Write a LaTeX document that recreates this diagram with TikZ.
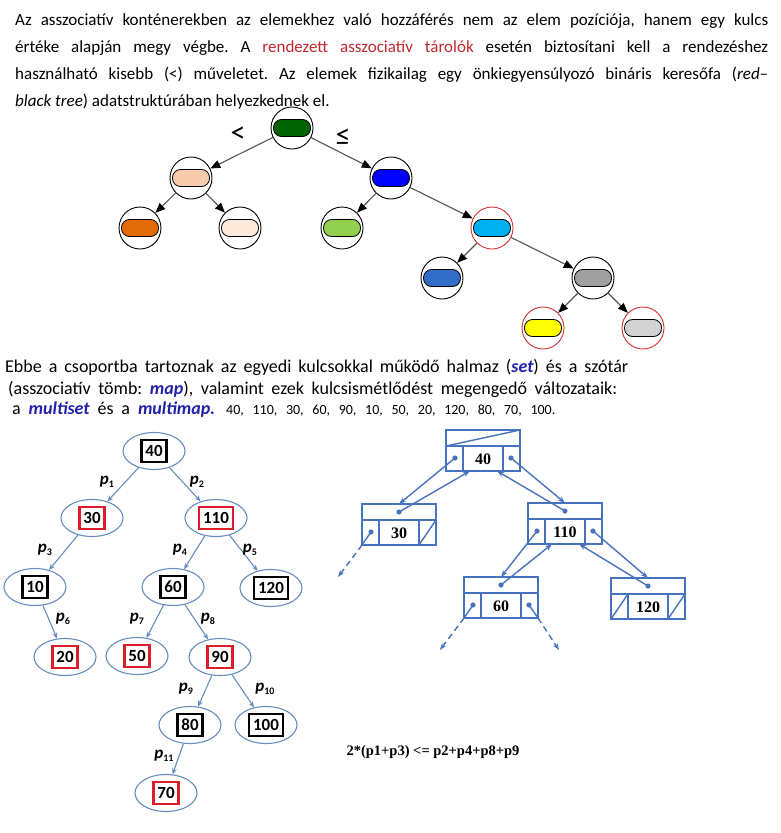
\documentclass[tikz,border=0pt]{standalone}
\usepackage{fontspec}
\setmainfont{Carlito}
\newfontfamily\timesf{Liberation Serif}
\usetikzlibrary{arrows.meta,shapes.geometric}
\frenchspacing
\definecolor{darkred}{RGB}{192,40,45}
\definecolor{kwblue}{RGB}{32,32,170}
\definecolor{eblue}{RGB}{105,140,190}
\definecolor{rblue}{RGB}{70,115,190}
\definecolor{boxred}{RGB}{220,30,40}
\definecolor{circred}{RGB}{210,50,50}
\definecolor{lgray}{RGB}{85,85,85}
\definecolor{cRoot}{RGB}{0,100,0}
\definecolor{cL}{RGB}{248,203,173}
\definecolor{cR}{RGB}{0,0,255}
\definecolor{cLL}{RGB}{226,107,10}
\definecolor{cLR}{RGB}{253,233,217}
\definecolor{cRL}{RGB}{146,208,80}
\definecolor{cRR}{RGB}{0,176,240}
\definecolor{cRRL}{RGB}{50,110,200}
\definecolor{cRRR}{RGB}{160,160,160}
\definecolor{cY}{RGB}{255,255,0}
\definecolor{cLG}{RGB}{210,210,210}
\newcommand\kw[1]{\textbf{\textit{\color{kwblue}#1}}}
\newcommand\pl[1]{\textit{p}\raisebox{-3pt}{\fontsize{10}{10}\selectfont #1}}
\newcommand\recbox[4]{%
 \draw[rline] (#2,#3) rectangle ++(74,41);
 \draw[rline] (#2,#3+16) -- ++(74,0);
 \draw[rline] (#2+17,#3+16) -- ++(0,25);
 \draw[rline] (#2+57,#3+16) -- ++(0,25);
 \node[rtxt] (#1) at (#2+37,#3+29) {#4};
 \coordinate (#1-h) at (#2+37,#3+8);
 \coordinate (#1-l) at (#2+9,#3+28);
 \coordinate (#1-r) at (#2+65,#3+28);
 \coordinate (#1-t) at (#2+37,#3);
 \coordinate (#1-bA) at (#2+24,#3+41);
 \coordinate (#1-bB) at (#2+51,#3+41);
 \coordinate (#1-bl) at (#2,#3+41);
 \coordinate (#1-br) at (#2+74,#3+41);
}
\begin{document}
\begin{tikzpicture}[x=1pt,y=-1pt,
 txt/.style={anchor=base west, inner sep=0, font=\fontsize{17}{20}\selectfont},
 txtb/.style={anchor=base west, inner sep=0, font=\fontsize{18}{20}\selectfont},
 tn/.style={circle, draw=black, line width=0.9pt, minimum size=42pt, inner sep=0, fill=white},
 rn/.style={tn, draw=circred},
 pill/.style={draw=black, line width=0.8pt, rounded corners=8pt, minimum width=37pt, minimum height=17pt, inner sep=0},
 uarr/.style={draw=lgray, line width=1.1pt, -{Triangle[length=10pt,width=8pt,color=black]}},
 bn/.style={ellipse, draw=eblue, line width=1.1pt, minimum width=62pt, minimum height=37pt, inner sep=0, fill=white},
 bk/.style={draw=black, line width=2.5pt, font=\fontsize{17}{17}\selectfont\bfseries, inner xsep=4pt, inner ysep=2.5pt, minimum height=22pt},
 rk/.style={bk, draw=boxred},
 barr/.style={draw=eblue, line width=1.1pt, -{Stealth[length=6pt,width=5pt]}},
 plab/.style={inner sep=0, font=\fontsize{17}{17}\selectfont\bfseries},
 rline/.style={draw=rblue, line width=1.4pt},
 rarr/.style={rline, -{Stealth[length=7pt,width=5pt]}},
 rtxt/.style={inner sep=0, font=\timesf\fontsize{16}{16}\selectfont\bfseries},
]
\useasboundingbox (0,0) rectangle (781,833);

% paragraph 1
\node[txt] (t1) at (15,25) {\makebox[753pt][s]{Az asszociatív konténerekben az elemekhez való hozzáférés nem az elem pozíciója, hanem egy kulcs}};
\node[txt] (t2) at (15,52) {\makebox[753pt][s]{értéke alapján megy végbe. A \textcolor{darkred}{rendezett asszociatív tárolók} esetén biztosítani kell a rendezéshez}};
\node[txt] (t3) at (15,79) {\makebox[753pt][s]{használható kisebb (<) műveletet. Az elemek fizikailag egy önkiegyensúlyozó bináris keresőfa (\textit{red–}}};
\node[txt] (t4) at (15,106) {\textit{black tree}) adatstruktúrában helyezkednek el.};

% upper tree
\node[tn, label={[pill, fill=cRoot]center:}] (u0) at (292,128) {};
\node[tn, label={[pill, fill=cL]center:}] (u1) at (191,178) {};
\node[tn, label={[pill, fill=cR]center:}] (u2) at (391,178) {};
\node[tn, label={[pill, fill=cLL]center:}] (u3) at (140,228) {};
\node[tn, label={[pill, fill=cLR]center:}] (u4) at (240,228) {};
\node[tn, label={[pill, fill=cRL]center:}] (u5) at (342,228) {};
\node[rn, label={[pill, fill=cRR]center:}] (u6) at (492,228) {};
\node[tn, label={[pill, fill=cRRL]center:}] (u7) at (442,278) {};
\node[tn, label={[pill, fill=cRRR]center:}] (u8) at (593,278) {};
\node[rn, label={[pill, fill=cY]center:}] (u9) at (543,328) {};
\node[rn, label={[pill, fill=cLG]center:}] (u10) at (643,328) {};
\draw[uarr] (u0) -- (u1);
\draw[uarr] (u0) -- (u2);
\draw[uarr] (u1) -- (u3);
\draw[uarr] (u1) -- (u4);
\draw[uarr] (u2) -- (u5);
\draw[uarr] (u2) -- (u6);
\draw[uarr] (u6) -- (u7);
\draw[uarr] (u6) -- (u8);
\draw[uarr] (u8) -- (u9);
\draw[uarr] (u8) -- (u10);
\node[inner sep=0, font=\fontsize{30}{30}\selectfont] (lt) at (238,135) {<};
\node[inner sep=0, font=\fontsize{30}{30}\selectfont] (le) at (343,137) {≤};

% paragraph 2
\node[txtb] (s1) at (5,372) {\makebox[623pt][s]{Ebbe a csoportba tartoznak az egyedi kulcsokkal működő halmaz (\kw{set}) és a szótár}};
\node[txtb] (s2) at (8,394) {\makebox[609pt][s]{(asszociatív tömb: \kw{map}), valamint ezek kulcsismétlődést megengedő változataik:}};
\node[txtb] (s3) at (12,414) {\makebox[203pt][s]{a \kw{multiset} és a \kw{multimap.}}};
\node[txt, font=\fontsize{14}{16}\selectfont] (s4) at (226,414) {\makebox[329pt][s]{40, 110, 30, 60, 90, 10, 50, 20, 120, 80, 70, 100.}};

% lower-left tree
\node[bn, label={[bk]center:40}] (b40) at (154,451) {};
\node[bn, label={[rk]center:30}] (b30) at (92,518) {};
\node[bn, label={[rk]center:110}] (b110) at (216,518) {};
\node[bn, label={[bk]center:10}] (b10) at (35,587) {};
\node[bn, label={[bk]center:60}] (b60) at (173,587) {};
\node[bn, label={[bk]center:120}] (b120) at (271,588) {};
\node[bn, label={[rk]center:20}] (b20) at (65,657) {};
\node[bn, label={[rk]center:50}] (b50) at (137,656) {};
\node[bn, label={[rk]center:90}] (b90) at (220,657) {};
\node[bn, label={[bk]center:80}] (b80) at (190,725) {};
\node[bn, label={[bk]center:100}] (b100) at (266,725) {};
\node[bn, label={[rk]center:70}] (b70) at (166,793) {};
\draw[barr] (b40) -- (b30);
\draw[barr] (b40) -- (b110);
\draw[barr] (b30) -- (b10);
\draw[barr] (b110) -- (b60);
\draw[barr] (b110) -- (b120);
\draw[barr] (b10) -- (b20);
\draw[barr] (b60) -- (b50);
\draw[barr] (b60) -- (b90);
\draw[barr] (b90) -- (b80);
\draw[barr] (b90) -- (b100);
\draw[barr] (b80) -- (b70);
\node[plab] (p1) at (107,482) {\pl{1}};
\node[plab] (p2) at (197,482) {\pl{2}};
\node[plab] (p3) at (45,550) {\pl{3}};
\node[plab] (p4) at (180,550) {\pl{4}};
\node[plab] (p5) at (250,550) {\pl{5}};
\node[plab] (p6) at (63,619) {\pl{6}};
\node[plab] (p7) at (137,619) {\pl{7}};
\node[plab] (p8) at (208,619) {\pl{8}};
\node[plab] (p9) at (186,689) {\pl{9}};
\node[plab] (p10) at (265,689) {\pl{10}};
\node[plab] (p11) at (164,756) {\pl{11}};

% record tree
\recbox{r40}{446}{430}{40}
\recbox{r30}{362}{504}{30}
\recbox{r110}{528}{503}{110}
\recbox{r60}{464}{577}{60}
\recbox{r120}{611}{578}{120}
\draw[rline] (446,446) -- (520,430);
\draw[rline] (362+57,504+41) -- (362+74,504+16);
\draw[rline] (611,578+41) -- (611+17,578+16);
\draw[rline] (611+57,578+41) -- (611+74,578+16);
\foreach \n in {r40-l,r40-r,r30-h,r30-l,r110-h,r110-l,r110-r,r60-h,r60-l,r60-r,r120-h}
  \fill[rblue] (\n) circle[radius=2.6pt];
\draw[rarr] (r40-l) -- (r30-t);
\draw[rarr] (r30-h) -- (r40-bA);
\draw[rarr] (r40-r) -- (r110-t);
\draw[rarr] (r110-h) -- (r40-bB);
\draw[rarr] (r110-l) -- (r60-t);
\draw[rarr] (r60-h) -- (r110-bA);
\draw[rarr] (r110-r) -- (r120-t);
\draw[rarr] (r120-h) -- (r110-bB);
\coordinate (d1) at (338,577);
\coordinate (d2) at (440,650);
\coordinate (d3) at (559,650);
\draw[rline] (r30-l) -- (r30-bl);
\draw[rline, dash pattern=on 6pt off 4pt, -{Stealth[length=7pt,width=5pt]}] (r30-bl) -- (d1);
\draw[rline] (r60-l) -- (r60-bl);
\draw[rline, dash pattern=on 6pt off 4pt, -{Stealth[length=7pt,width=5pt]}] (r60-bl) -- (d2);
\draw[rline] (r60-r) -- (r60-br);
\draw[rline, dash pattern=on 6pt off 4pt, -{Stealth[length=7pt,width=5pt]}] (r60-br) -- (d3);

\node[inner sep=0, font=\timesf\fontsize{14.5}{15}\selectfont\bfseries] (f) at (433,752) {2*(p1+p3) <= p2+p4+p8+p9};
\end{tikzpicture}
\end{document}
